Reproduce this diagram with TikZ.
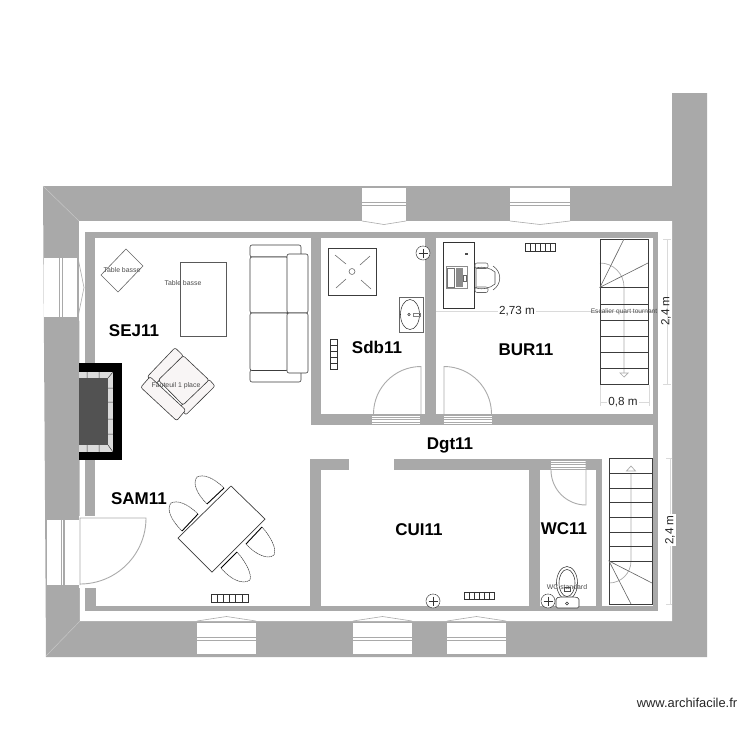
\documentclass[tikz,border=0pt]{standalone}
\usepackage{fontspec}
\setmainfont{Liberation Sans}
\definecolor{wallgray}{HTML}{A9A9A9}
\definecolor{linegray}{HTML}{ABABAB}
\definecolor{dimgray}{HTML}{DADADA}
\definecolor{inkdark}{HTML}{3C3C3C}
\definecolor{seatfill}{HTML}{F8F5F5}
\newcommand{\radiatorh}[4]{% x1 y1 x2 y2
  \draw[fixture] (#1,#2) rectangle (#3,#4);
  \foreach \ri in {1,...,5}{\pgfmathsetmacro{\rx}{#1+(#3-#1)*\ri/6}\draw[fixture] (\rx,#2) -- (\rx,#4);}
}
\newcommand{\outletmark}[2]{%
  \draw[fixture,fill=white,dash pattern=on 2pt off .5pt] (#1,#2) circle[radius=7pt];
  \draw[fixture,line width=.9pt] (#1-4.5,#2) -- (#1+4.5,#2) (#1,#2-4.5) -- (#1,#2+4.5);
}
\tikzset{
  x=1pt,y=-1pt,
  wall/.style={fill=wallgray,draw=none},
  chev/.style={draw=linegray,line width=.6pt},
  fixture/.style={draw=black!80,line width=.55pt},
  doorline/.style={draw=linegray,line width=.9pt},
  stairline/.style={draw=inkdark,line width=.8pt},
  guide/.style={draw=linegray,line width=.7pt},
  dimline/.style={draw=dimgray,line width=.7pt},
  roomlabel/.style={font=\fontsize{17}{17}\selectfont\bfseries,text=black,inner sep=0pt},
  dimlabel/.style={font=\fontsize{11.7}{12}\selectfont,text=black!85,fill=white,inner sep=1.5pt},
  tinylabel/.style={font=\fontsize{6.9}{7}\selectfont,text=black!70,inner sep=0pt},
  furn/.style={draw=inkdark,line width=.6pt},
  chairline/.style={draw=inkdark,line width=.5pt,dash pattern=on 1.5pt off .5pt},
}
\begin{document}
\begin{tikzpicture}
\useasboundingbox (0,0) rectangle (750,750);
\fill[white] (0,0) rectangle (750,750);
% outer walls
\fill[wall] (43,186) -- (672,186) -- (672,93) -- (707,93) -- (707,657) -- (46,657) -- cycle;
\fill[white] (79,221) -- (672,221) -- (672,621) -- (80,621) -- cycle;
\draw[draw=black!22,line width=.5pt] (43,186) -- (79,221) (46,656) -- (80,621);
% inner walls
\fill[wall] (85,232) rectangle (658,238);
\fill[wall] (85,232) rectangle (95,363);
\fill[wall] (85,460) rectangle (95,516);
\fill[wall] (85,588) rectangle (96,611);
\fill[wall] (85,606) rectangle (658,611);
\fill[wall] (311,238) rectangle (321,425);
\fill[wall] (425,238) rectangle (436,425);
\fill[wall] (311,414) rectangle (655,425);
\fill[wall] (653,232) rectangle (658,611);
\fill[wall] (310,459) rectangle (349,470);
\fill[wall] (310,459) rectangle (321,606);
\fill[wall] (394,459) rectangle (602,470);
\fill[wall] (529,470) rectangle (540,606);
\fill[wall] (596,470) rectangle (602,606);
% windows top
\foreach \xa/\xb/\xm in {362/406/384,510/570/540}{
  \fill[white] (\xa,188) rectangle (\xb,221);
  \fill[wallgray] (\xa,202) rectangle (\xb,206);
  \fill[white] (\xa,203.4) rectangle (\xb,204.6);
  \draw[chev] (\xa,221) -- (\xm,224.5) -- (\xb,221);
}
% windows bottom
\foreach \xa/\xb/\xm in {197/256/226.5,353/412/382.5,447/506/476.5}{
  \fill[white] (\xa,623) rectangle (\xb,654);
  \fill[wallgray] (\xa,637) rectangle (\xb,641);
  \fill[white] (\xa,638.4) rectangle (\xb,639.6);
  \draw[chev] (\xa,621) -- (\xm,616.5) -- (\xb,621);
}
% window left
\fill[white] (44,258) rectangle (77,317);
\fill[wallgray] (59,258) rectangle (63,317);
\fill[white] (60.4,258) rectangle (61.6,317);
\draw[chev] (78,258) -- (84,287.5) -- (78,317);
% entrance door
\fill[white] (47,520) rectangle (80,585);
\fill[wallgray] (60.5,520) rectangle (65,585);
\fill[white] (62,520) rectangle (63.4,585);
\fill[white] (79,516) rectangle (96,588);
\draw[doorline] (80,585) -- (80,518) -- (146,518) arc[start angle=0,end angle=-90,radius=66pt];
% fireplace
\fill[black] (79,363) rectangle (122,460);
\fill[black!14] (79,372) rectangle (113,452);
\fill[black!68] (79,378) rectangle (108,445);
\draw[inkdark,line width=.5pt] (113,372) -- (108,378) (113,452) -- (108,445)
  (87,372) -- (87,378) (99,372) -- (99,378) (87,445) -- (87,452) (99,445) -- (99,452)
  (108,388) -- (113,388) (108,402) -- (113,402) (108,419) -- (113,419) (108,434) -- (113,434);
% room door thresholds and leaves
\foreach \xa/\xb in {372/420,444/492}{
  \fill[white] (\xa,415.5) rectangle (\xb,423.5);
  \foreach \yy in {417,419.5,422}{\draw[linegray,line width=.8pt] (\xa,\yy) -- (\xb,\yy);}
}
\draw[doorline] (421,414) -- (421,366.5) arc[start angle=90,end angle=180,radius=47.5pt];
\draw[doorline] (444,414) -- (444,366.5) arc[start angle=90,end angle=0,radius=47.5pt];
\fill[white] (551,460.5) rectangle (586,468.5);
\foreach \yy in {462,464.5,467}{\draw[linegray,line width=.8pt] (551,\yy) -- (586,\yy);}
\draw[doorline] (586,460) -- (586,505) arc[start angle=-90,end angle=-180,radius=35pt] -- (551,470);
% dimensions
\draw[dimline] (436,311.5) -- (653,311.5);
\draw[dimline] (667,239) -- (667,384) (663,239) -- (671,239) (663,384) -- (671,384);
\draw[dimline] (600,402) -- (649,402) (600,385) -- (600,406) (649,385) -- (649,406);
\draw[dimline] (670,458) -- (670,604) (666,458) -- (672,458) (666,604) -- (672,604);
% upper stair
\draw[guide] (600,263) arc[start angle=90,end angle=0,radius=24pt] -- (624,373);
\draw[guide] (620,373) -- (628,373) -- (624,377) -- cycle;
\draw[stairline] (600,239) rectangle (648,384);
\foreach \yy in {287.3,304,320.3,336.3,352.3,368.3}{\draw[stairline] (600,\yy) -- (648,\yy);}
\draw[stairline,draw=inkdark!80,line width=.6pt] (624,239) -- (600,287.3) -- (648,263);
% lower stair
\draw[guide] (631,473) -- (631,561) arc[start angle=0,end angle=-90,radius=22pt];
\draw[guide] (626.5,471) -- (635.5,471) -- (631,466) -- cycle;
\draw[stairline] (609,458) rectangle (652,604);
\foreach \yy in {473,488,502,517,532,546,561}{\draw[stairline] (609,\yy) -- (652,\yy);}
\draw[stairline,draw=inkdark!80,line width=.6pt] (652,583) -- (609,561) -- (631,604);
% small table diamond and table
\draw[draw=black!60,line width=.6pt] (126,249) -- (143,266) -- (118,292) -- (101,275) -- cycle;
\draw[draw=black!65,line width=.8pt] (180,262) rectangle (226,336);
% sofa
\begin{scope}[furn,rounded corners=2pt]
\draw (250,245) rectangle (301,257);
\draw (250,370) rectangle (301,382);
\draw[fill=white] (250,257) rectangle (288,313);
\draw[fill=white] (250,313) rectangle (288,370.5);
\draw[fill=white] (287,254) rectangle (308,313);
\draw[fill=white] (287,313) rectangle (308,373);
\end{scope}
% armchair
\begin{scope}[furn,fill=seatfill,rounded corners=2pt]
\filldraw (147.3,376.7) -- (175,347.7) -- (183.3,355.7) -- (155.7,384) -- cycle;
\filldraw (209,379.3) -- (215,386) -- (185.7,415) -- (180,406.7) -- cycle;
\filldraw (183.3,355.7) -- (209,380) -- (183,405) -- (158.3,380) -- cycle;
\filldraw (150,376.7) -- (185.7,410) -- (176.7,420.7) -- (140.7,387.3) -- cycle;
\end{scope}
% dining table and chairs
\draw[furn,line width=.7pt] (231,486) -- (265,519) -- (212,572) -- (178,538) -- cycle;
\draw[chairline] (224,488) .. controls (213,477) and (203,474) .. (197,477) .. controls (192,483) and (197,494) .. (207,504);
\draw[chairline] (198,514) .. controls (187,503) and (177,500) .. (171,503) .. controls (166,509) and (171,520) .. (182,531);
\draw[chairline] (262,527) .. controls (271,537) and (277,549) .. (274,555) .. controls (268,560) and (256,555) .. (246,544);
\draw[chairline] (237,552) .. controls (246,562) and (252,574) .. (250,580) .. controls (243,585) and (231,580) .. (221,568);
\draw[black,line width=.9pt] (224,488) -- (207,504) (198,514) -- (182,531) (262,527) -- (246,544) (237,552) -- (221,568);
% radiators
\draw[fixture] (330,339) rectangle (337,369);
\foreach \yy in {345,351,357,363}{\draw[fixture] (330,\yy) -- (337,\yy);}
\radiatorh{525}{243}{555}{251}
\radiatorh{211}{594}{248}{602}
\radiatorh{464}{592}{494}{599}
% shower
\draw[fixture,draw=inkdark,line width=.7pt] (328,248) rectangle (376,295);
\draw[fixture,draw=black!60] (352,271.5) circle[radius=3pt];
\draw[fixture,draw=black!60] (335,255) -- (346,264) (370,256) -- (360,265) (336,288) -- (346,279) (371,289) -- (361,280);
% sink
\draw[fixture,draw=black!60,line width=.7pt] (399,297) rectangle (423,332);
\draw[fixture] (410,314.5) ellipse[x radius=9.5pt,y radius=15pt];
\draw[fixture] (409,314.5) circle[radius=1.3pt];
\draw[fixture,draw=black!50] (413,313) rectangle (420,316);
% desk and office chair
\draw[fixture,line width=.7pt] (443,242) rectangle (474,308);
\fill[black!70] (465,252.5) rectangle (467.5,255);
\draw[fixture,draw=black!45,line width=.7pt] (446,266.5) rectangle (467,288);
\draw[fixture,draw=black!55] (447,268) rectangle (454,287);
\fill[black!45] (456,267.5) rectangle (463,287);
\draw[fixture,draw=black!60,fill=white] (463,275) rectangle (466,281);
\draw[fixture,draw=black!60,rounded corners=2pt] (475,263) rectangle (488,268.5);
\draw[fixture,draw=black!60,rounded corners=2pt] (475,287) rectangle (488,292.5);
\draw[fixture,draw=black!70] (476,268) .. controls (484,266) and (490,268) .. (495,272) -- (495,284) .. controls (490,288) and (484,290) .. (476,288) -- cycle;
\draw[fixture,draw=black!70] (493,266) .. controls (502,272) and (502,284) .. (493,290);
% outlets
\outletmark{423}{253}
\outletmark{433}{601}
% toilet
\draw[fixture] (567,583) ellipse[x radius=10.5pt,y radius=16.5pt];
\draw[fixture] (567,583) ellipse[x radius=8pt,y radius=13.5pt];
\draw[fixture,draw=black!70] (564,587) rectangle (570,591);
\draw[fixture,rounded corners=1.5pt,fill=white] (556,598) -- (556,608) -- (579,608) -- (579,598) -- (575,597) -- (560,597) -- cycle;
\draw[fixture] (567,603.5) circle[radius=1.5pt];
\outletmark{548}{601}
% texts
\node[tinylabel] (t1) at (122,270) {Table basse};
\node[tinylabel] (t2) at (183,283.5) {Table basse};
\node[tinylabel] (t3) at (176,385.5) {Fauteuil 1 place};
\node[tinylabel] (t4) at (567,587.5) {WC standard};
\node[dimlabel] (d1) at (517,311) {2,73 m};
\node[tinylabel,font=\fontsize{6.6}{7}\selectfont] (t5) at (624,311.5) {Escalier quart tournant};
\node[dimlabel,fill=none,rotate=90,inner sep=0pt] (d2) at (666,311) {2,4 m};
\node[dimlabel] (d3) at (623,402) {0,8 m};
\node[dimlabel,rotate=90,inner sep=1pt] (d4) at (670,530) {2,4 m};
\node[roomlabel] (r1) at (134,331) {SEJ11};
\node[roomlabel] (r2) at (377,347) {Sdb11};
\node[roomlabel] (r3) at (526,349.5) {BUR11};
\node[roomlabel] (r4) at (450,445) {Dgt11};
\node[roomlabel] (r5) at (139,499) {SAM11};
\node[roomlabel] (r6) at (419,529.5) {CUI11};
\node[roomlabel] (r7) at (564,529) {WC11};
\node[font=\fontsize{12.9}{13}\selectfont,text=black!85,inner sep=0pt] (logo) at (687,702.5) {www.archifacile.fr};
\end{tikzpicture}
\end{document}
